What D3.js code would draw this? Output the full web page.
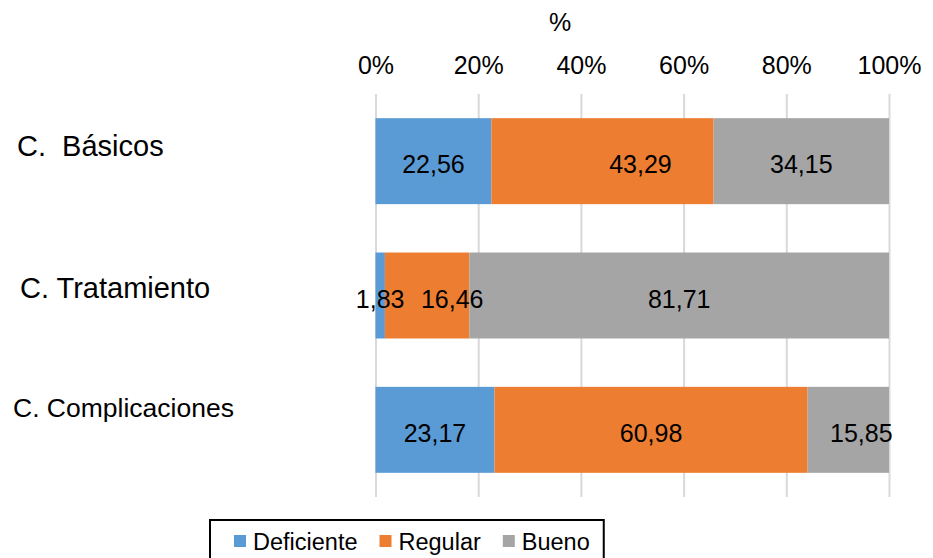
<!DOCTYPE html>
<html>
<head>
<meta charset="utf-8">
<script src="https://cdn.jsdelivr.net/npm/d3@7/dist/d3.min.js"></script>
<style>
  html, body { margin: 0; padding: 0; background: #fff; }
  svg { display: block; font-family: "Liberation Sans", Arial, sans-serif; }
</style>
</head>
<body>
<svg id="chart" width="933" height="558"></svg>
<script>
// Dimension groups (rows of the chart)
const categories = ["C.  Básicos", "C. Tratamiento", "C. Complicaciones"];
// Rating levels, stacked left to right
const seriesNames = ["Deficiente", "Regular", "Bueno"];
// Percentage of each rating level per group
const deficiente = [22.56, 1.83, 23.17];
const regular    = [43.29, 16.46, 60.98];
const bueno      = [34.15, 81.71, 15.85];
// Axis ticks (percent)
const xTicks = [0, 20, 40, 60, 80, 100];
const axisTitle = "%";

const colors = ["#5B9BD5", "#ED7D31", "#A5A5A5"];

// Layout of the row labels on the left (x start, y shift from row centre, font size)
const rowLabelLayout = [
  { x: 17, dy: -5, size: 29 },
  { x: 20, dy: 2, size: 29 },
  { x: 13, dy: -13, size: 26.5 }
];
// Horizontal nudges for value labels that sit off-centre [row][series]
const valueLabelShift = [
  [0, 38, 0],
  [0, 25, 0],
  [0, 0, 13]
];

const svg = d3.select("#chart");

const plotTop = 94, plotBottom = 497;
const x = d3.scaleLinear().domain([0, 100]).range([375.5, 889]);
const y = d3.scaleBand()
  .domain(categories)
  .range([plotTop, plotBottom])
  .paddingInner(0.36)
  .paddingOuter(0.18);

// Build stacked rows
const rows = categories.map((c, i) => ({
  cat: c,
  Deficiente: deficiente[i],
  Regular: regular[i],
  Bueno: bueno[i]
}));
const stack = d3.stack().keys(seriesNames);
const stacked = stack(rows);

// Gridlines + top axis
const axis = d3.axisTop(x)
  .tickValues(xTicks)
  .tickSize(-(plotBottom - plotTop))
  .tickPadding(20)
  .tickFormat(d => d + "%");

const gAxis = svg.append("g")
  .attr("transform", `translate(0,${plotTop})`)
  .call(axis);
gAxis.select(".domain").remove();
gAxis.selectAll(".tick line")
  .attr("stroke", "#d9d9d9")
  .attr("stroke-width", 2);
gAxis.selectAll(".tick text")
  .attr("fill", "#000")
  .style("font-size", "25px")
  .style("font-family", "'Liberation Sans', Arial, sans-serif");

// Axis title
svg.append("text")
  .attr("x", 560)
  .attr("y", 31)
  .attr("text-anchor", "middle")
  .style("font-size", "25px")
  .text(axisTitle);

// Bars
const layers = svg.append("g")
  .selectAll("g")
  .data(stacked)
  .join("g")
  .attr("fill", (d, i) => colors[i]);

layers.selectAll("rect")
  .data(d => d)
  .join("rect")
  .attr("x", d => x(d[0]))
  .attr("y", d => y(d.data.cat))
  .attr("width", d => x(d[1]) - x(d[0]))
  .attr("height", y.bandwidth());

// Value labels
const fmt = v => d3.format(".2f")(v).replace(".", ",");
stacked.forEach((layer, si) => {
  svg.append("g")
    .selectAll("text")
    .data(layer)
    .join("text")
    .attr("x", (d, ri) => (x(d[0]) + x(d[1])) / 2 + valueLabelShift[ri][si])
    .attr("y", d => y(d.data.cat) + y.bandwidth() / 2 + 12)
    .attr("text-anchor", "middle")
    .attr("fill", "#000")
    .style("font-size", "25px")
    .text(d => fmt(d[1] - d[0]));
});

// Row labels
svg.append("g")
  .selectAll("text")
  .data(categories)
  .join("text")
  .attr("x", (d, i) => rowLabelLayout[i].x)
  .attr("y", (d, i) => y(d) + y.bandwidth() / 2 + rowLabelLayout[i].dy)
  .style("font-size", (d, i) => rowLabelLayout[i].size + "px")
  .style("white-space", "pre")
  .attr("xml:space", "preserve")
  .attr("fill", "#000")
  .text(d => d);

// Legend
const legend = svg.append("g");
const legendBox = legend.append("rect")
  .attr("fill", "#fff")
  .attr("stroke", "#000")
  .attr("stroke-width", 2);
let lx = 234;
const legendTop = 520;
seriesNames.forEach((name, i) => {
  legend.append("rect")
    .attr("x", lx)
    .attr("y", 535)
    .attr("width", 12)
    .attr("height", 12)
    .attr("fill", colors[i]);
  const t = legend.append("text")
    .attr("x", lx + 19)
    .attr("y", 550)
    .style("font-size", "23.5px")
    .attr("fill", "#000")
    .text(name);
  lx = lx + 19 + t.node().getComputedTextLength() + 22;
});
legendBox
  .attr("x", 210)
  .attr("y", legendTop)
  .attr("width", lx - 22 + 14 - 210)
  .attr("height", 60);
</script>
</body>
</html>
